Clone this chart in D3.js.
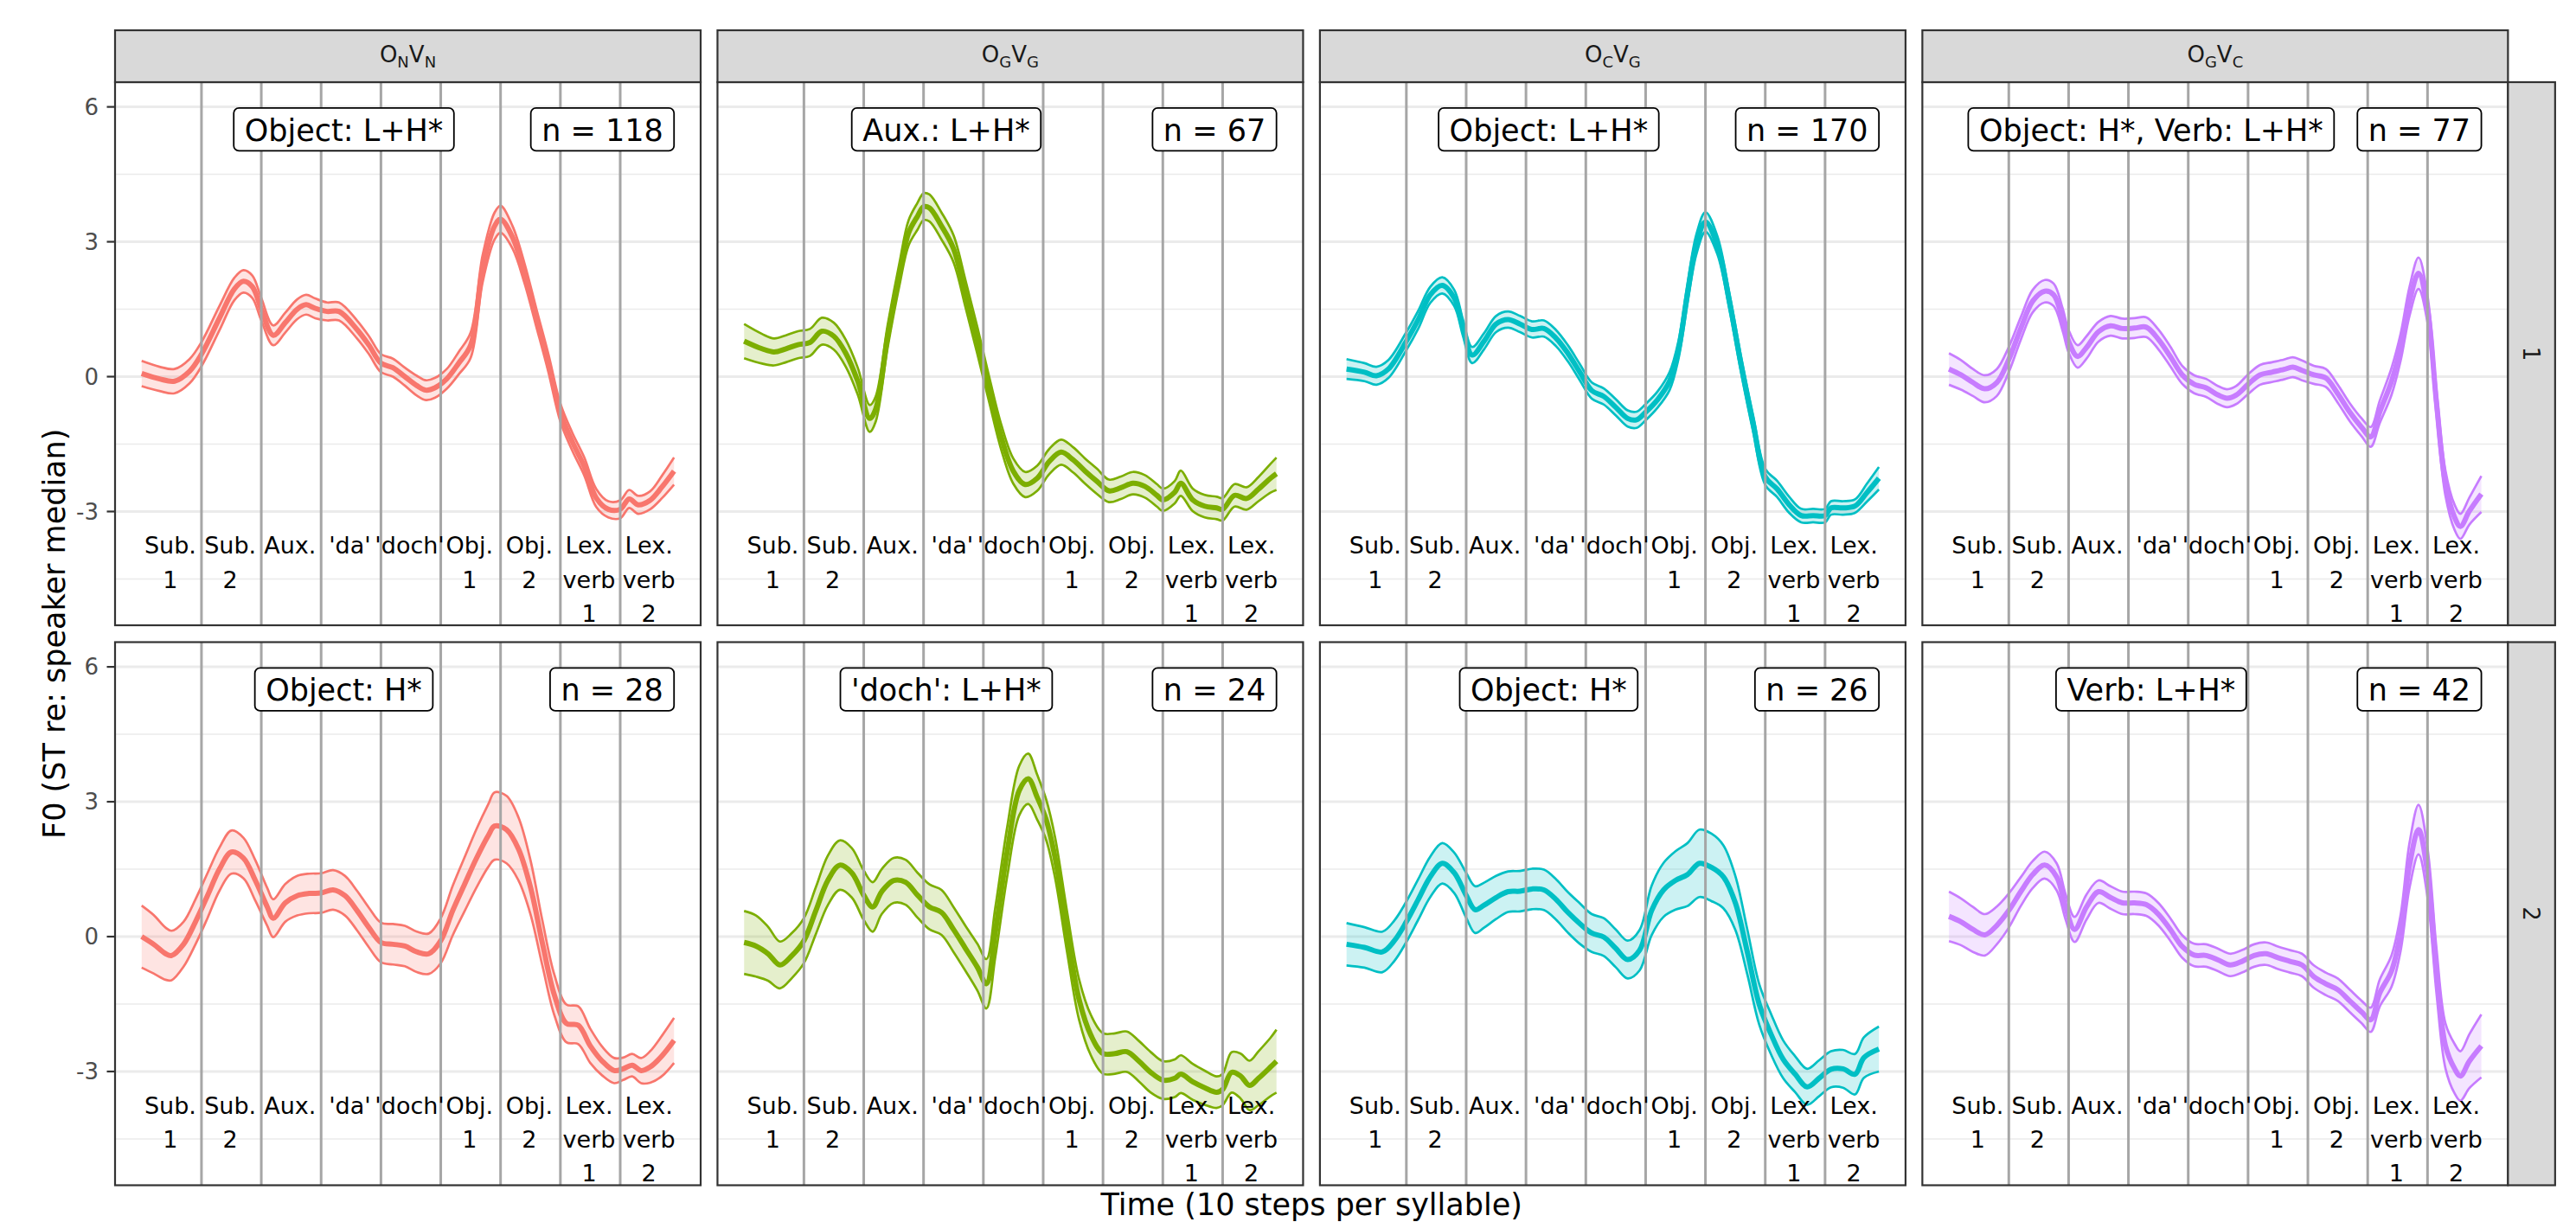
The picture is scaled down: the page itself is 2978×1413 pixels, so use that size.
<!DOCTYPE html>
<html><head><meta charset="utf-8">
<script src="https://cdn.jsdelivr.net/npm/d3@7"></script>
<style>body{margin:0;background:#fff}svg{display:block}</style>
</head><body>
<script>
// ---------- data ----------
const facetCols = [["O","N","V","N"],["O","G","V","G"],["O","C","V","G"],["O","G","V","C"]];
const facetRows = ["1","2"];
const colors = ["#F8766D","#7CAE00","#00BFC4","#C77CFF"];
const syllables = ["Sub.\n1","Sub.\n2","Aux.","'da'","'doch'","Obj.\n1","Obj.\n2","Lex.\nverb\n1","Lex.\nverb\n2"];
const boundaries = [10,20,30,40,50,60,70,80];
const yTicks = [-3,0,3,6];
const yMinor = [-4.5,-1.5,1.5,4.5];
const accentLabels = [["Object: L+H*","Aux.: L+H*","Object: L+H*","Object: H*, Verb: L+H*"],
                      ["Object: H*","'doch': L+H*","Object: H*","Verb: L+H*"]];
const nCounts = [[118,67,170,77],[28,24,26,42]];

// each row: [step, mean, ci half-width]
const onvn1 = [[0,0.07,0.28],[3,-0.05,0.27],[5.5,-0.1,0.27],[8,0.12,0.27],[10,0.5,0.27],[13,1.3,0.27],[15.5,1.95,0.25],[17,2.12,0.25],[18.5,2.0,0.25],[20,1.5,0.25],[22,0.92,0.22],[24,1.2,0.22],[26,1.5,0.22],[27.5,1.6,0.22],[29,1.52,0.22],[31,1.45,0.2],[33,1.45,0.2],[36,1.05,0.2],[38,0.7,0.2],[40,0.3,0.2],[42,0.2,0.2],[44,0.0,0.2],[46,-0.2,0.22],[47.5,-0.3,0.22],[49,-0.25,0.22],[51,-0.05,0.22],[53,0.3,0.25],[55,0.7,0.28],[57,2.4,0.3],[59,3.35,0.3],[60,3.5,0.3],[62,3.1,0.25],[64,2.3,0.22],[66,1.3,0.2],[68,0.3,0.2],[70,-0.8,0.2],[72,-1.45,0.2],[74,-2.0,0.2],[76,-2.7,0.2],[78,-2.95,0.18],[80,-2.95,0.2],[81.5,-2.72,0.2],[83,-2.85,0.2],[85,-2.75,0.2],[87,-2.45,0.25],[89,-2.1,0.3]];
const ogvg1 = [[0,0.79,0.38],[3,0.62,0.33],[5,0.55,0.3],[7,0.62,0.3],[9,0.71,0.3],[11,0.76,0.3],[13,1.01,0.3],[15,0.9,0.3],[17,0.52,0.3],[19,-0.1,0.3],[21,-0.93,0.3],[22,-0.72,0.28],[24,0.9,0.25],[26,2.3,0.25],[27.5,3.2,0.28],[29,3.57,0.3],[30,3.78,0.3],[31,3.75,0.3],[33,3.35,0.3],[35,2.85,0.3],[37,1.85,0.3],[39,0.8,0.3],[41,-0.3,0.28],[43,-1.35,0.28],[45,-2.1,0.28],[47,-2.4,0.28],[49,-2.26,0.28],[51,-1.89,0.28],[53,-1.68,0.28],[55,-1.85,0.28],[57,-2.1,0.28],[59,-2.33,0.28],[61,-2.54,0.25],[63,-2.47,0.25],[65,-2.37,0.25],[67,-2.44,0.25],[69,-2.64,0.25],[70,-2.74,0.25],[72,-2.57,0.25],[73,-2.37,0.28],[75,-2.74,0.25],[77,-2.88,0.25],[79,-2.92,0.25],[80,-2.95,0.25],[82,-2.64,0.25],[84,-2.71,0.25],[86,-2.5,0.27],[88,-2.26,0.32],[89,-2.16,0.36]];
const ocvg1 = [[0,0.17,0.22],[3,0.1,0.2],[5,0.02,0.2],[7,0.17,0.2],[10,0.79,0.2],[12,1.27,0.2],[14,1.82,0.18],[16,2.03,0.18],[18,1.75,0.18],[19.5,1.07,0.18],[21,0.48,0.18],[23,0.79,0.18],[25,1.17,0.18],[27,1.27,0.18],[29,1.17,0.18],[31,1.05,0.18],[33,1.07,0.18],[35,0.86,0.18],[37,0.52,0.18],[39,0.1,0.18],[41,-0.31,0.18],[43,-0.44,0.18],[45,-0.68,0.18],[47,-0.93,0.18],[48.5,-0.96,0.18],[50,-0.79,0.18],[52,-0.51,0.18],[54,-0.1,0.2],[55.5,0.6,0.2],[57,1.85,0.22],[58.5,2.95,0.22],[60,3.44,0.22],[62,2.92,0.2],[64,1.68,0.18],[66,0.24,0.18],[68,-1.06,0.18],[70,-2.23,0.18],[72,-2.5,0.18],[74,-2.85,0.18],[76,-3.09,0.15],[78,-3.09,0.15],[80,-3.09,0.15],[81,-2.92,0.15],[83,-2.92,0.15],[85,-2.88,0.15],[87,-2.58,0.2],[89,-2.26,0.25]];
const ogvc1 = [[0,0.17,0.35],[2,0.04,0.33],[4,-0.13,0.3],[6,-0.27,0.3],[8,-0.13,0.3],[10,0.38,0.28],[12,1.07,0.25],[14,1.68,0.25],[16,1.9,0.25],[17.5,1.82,0.25],[19,1.27,0.25],[20,0.79,0.25],[21.5,0.45,0.25],[23,0.65,0.25],[25,1.0,0.22],[27,1.13,0.22],[29,1.07,0.22],[31,1.08,0.22],[33,1.1,0.22],[35,0.83,0.22],[37,0.45,0.22],[39,0.04,0.2],[41,-0.17,0.2],[43,-0.25,0.2],[45,-0.41,0.2],[46.5,-0.48,0.2],[48,-0.41,0.2],[50,-0.17,0.22],[52,0.04,0.22],[54,0.1,0.22],[56,0.16,0.22],[57.5,0.21,0.22],[59,0.14,0.22],[61,0.04,0.2],[63,-0.03,0.2],[65,-0.38,0.2],[67,-0.79,0.2],[69,-1.13,0.2],[70.5,-1.34,0.22],[72,-0.79,0.25],[74,-0.1,0.3],[75.5,0.65,0.3],[77,1.68,0.32],[78.5,2.3,0.35],[80,1.5,0.3],[81.5,-0.58,0.28],[83,-2.37,0.28],[84.5,-3.12,0.28],[85.5,-3.33,0.28],[87,-2.99,0.3],[89,-2.61,0.4]];
const onvn2 = [[0,0.0,0.69],[2,-0.17,0.65],[4,-0.38,0.58],[5,-0.42,0.55],[7,-0.17,0.5],[9,0.33,0.5],[11,0.91,0.5],[13,1.5,0.48],[15,1.88,0.48],[17,1.75,0.45],[19,1.25,0.45],[21,0.66,0.42],[22,0.41,0.42],[24,0.75,0.42],[26,0.91,0.44],[28,0.96,0.44],[30,0.97,0.44],[32,1.04,0.44],[34,0.91,0.44],[36,0.58,0.44],[38,0.2,0.44],[40,-0.13,0.44],[42,-0.17,0.45],[44,-0.21,0.45],[46,-0.34,0.45],[48,-0.38,0.45],[50,-0.09,0.5],[52,0.58,0.55],[54,1.17,0.6],[56,1.75,0.65],[58,2.26,0.7],[59,2.46,0.75],[61,2.38,0.75],[63,1.95,0.7],[65,1.1,0.6],[67,-0.15,0.5],[69,-1.3,0.45],[71,-1.93,0.42],[73,-1.97,0.42],[75,-2.43,0.38],[77,-2.77,0.32],[79,-2.98,0.28],[80.5,-2.94,0.25],[82,-2.86,0.25],[83.5,-2.98,0.28],[85,-2.9,0.35],[87,-2.65,0.45],[89,-2.31,0.5]];
const ogvg2 = [[0,-0.13,0.7],[2,-0.21,0.68],[4,-0.38,0.6],[6,-0.63,0.52],[8,-0.42,0.5],[10,-0.09,0.5],[12,0.58,0.52],[14,1.25,0.55],[16,1.59,0.55],[18,1.42,0.55],[20,0.92,0.55],[21.5,0.66,0.55],[23,1.0,0.5],[25,1.25,0.5],[27,1.21,0.5],[29,0.92,0.5],[31,0.66,0.5],[33,0.54,0.5],[35,0.16,0.5],[37,-0.26,0.5],[39,-0.68,0.52],[40.5,-1.05,0.55],[42,0.1,0.55],[44,1.9,0.55],[46,3.25,0.55],[47.5,3.51,0.56],[49,3.1,0.5],[50.5,2.6,0.45],[52,1.75,0.45],[54,0.1,0.45],[56,-1.4,0.45],[58,-2.2,0.45],[60,-2.6,0.45],[62,-2.6,0.45],[64,-2.56,0.45],[66,-2.77,0.45],[68,-3.02,0.45],[70,-3.19,0.42],[72,-3.15,0.42],[73,-3.06,0.42],[75,-3.23,0.4],[77,-3.36,0.38],[79,-3.46,0.35],[80,-3.4,0.35],[81.5,-3.02,0.45],[83,-3.1,0.5],[84.5,-3.31,0.55],[86,-3.15,0.6],[88,-2.9,0.65],[89,-2.77,0.7]];
const ocvg2 = [[0,-0.17,0.47],[3,-0.24,0.45],[6,-0.34,0.45],[8,-0.09,0.45],[10,0.33,0.45],[12,0.83,0.45],[14,1.33,0.45],[16,1.63,0.45],[18,1.42,0.45],[20,0.92,0.5],[21.5,0.6,0.52],[23,0.7,0.5],[25,0.87,0.48],[27,1.0,0.45],[29,1.01,0.45],[31,1.06,0.45],[33,1.04,0.45],[35,0.83,0.45],[37,0.54,0.45],[39,0.29,0.45],[41,0.08,0.42],[43,-0.01,0.42],[45,-0.26,0.42],[47,-0.51,0.42],[49,-0.3,0.45],[51,0.58,0.55],[53,1.04,0.6],[55,1.25,0.65],[57,1.38,0.7],[59,1.63,0.75],[61,1.54,0.75],[63,1.33,0.7],[65,0.75,0.6],[67,-0.34,0.5],[69,-1.51,0.45],[71,-2.18,0.45],[73,-2.73,0.42],[75,-3.06,0.4],[77,-3.34,0.4],[79,-3.15,0.4],[81,-2.95,0.4],[83,-2.94,0.42],[85,-3.06,0.45],[86.5,-2.69,0.45],[89,-2.5,0.5]];
const ogvc2 = [[0,0.45,0.55],[2,0.33,0.52],[4,0.16,0.5],[6,0.04,0.46],[8,0.25,0.42],[10,0.58,0.38],[12,1.0,0.32],[14,1.38,0.3],[16,1.59,0.3],[18,1.33,0.3],[19.5,0.66,0.28],[21,0.16,0.28],[23,0.66,0.28],[25,1.0,0.25],[27,0.87,0.25],[29,0.75,0.25],[31,0.75,0.25],[33,0.71,0.25],[35,0.5,0.25],[37,0.16,0.25],[39,-0.22,0.25],[41,-0.41,0.25],[43,-0.42,0.25],[45,-0.52,0.25],[47,-0.63,0.25],[49,-0.55,0.25],[51,-0.42,0.25],[53,-0.38,0.25],[55,-0.47,0.25],[57,-0.55,0.25],[59,-0.63,0.25],[61,-0.89,0.25],[63,-1.05,0.25],[65,-1.18,0.25],[67,-1.43,0.25],[69,-1.68,0.25],[70.5,-1.85,0.27],[72,-1.26,0.3],[74,-0.76,0.35],[75.5,0.08,0.4],[77,1.59,0.5],[78.5,2.38,0.55],[80,1.42,0.55],[81.5,-0.76,0.5],[83,-2.43,0.5],[84.5,-2.93,0.55],[85.5,-3.1,0.55],[87,-2.77,0.6],[89,-2.43,0.7]];
const series = [[onvn1,ogvg1,ocvg1,ogvc1],[onvn2,ogvg2,ocvg2,ogvc2]];

// ---------- layout ----------
const W = 2978, H = 1413;
const panelW = 677, panelH = 628;
const colX = [0,1,2,3].map(i => 133 + i*696.45);
const rowY = [95, 742.5];
const stripTop = 35, stripRightW = 54.5;
const FONT = "'DejaVu Sans', Verdana, sans-serif";

const svg = d3.select("body").append("svg").attr("width", W).attr("height", H)
  .style("font-family", FONT);
svg.append("rect").attr("width", W).attr("height", H).attr("fill", "#fff");

const xExt = [0, 89], xPad = 0.05 * (xExt[1] - xExt[0]);
const x = d3.scaleLinear().domain([xExt[0] - xPad, xExt[1] + xPad]).range([0, panelW]);
const y = d3.scaleLinear().domain([-5.53, 6.55]).range([panelH, 0]);

const curve = d3.curveCatmullRom.alpha(0.5);
const meanLine = d3.line().x(d => x(d[0])).y(d => y(d[1])).curve(curve);
const upLine = d3.line().x(d => x(d[0])).y(d => y(d[1] + d[2])).curve(curve);
const loLine = d3.line().x(d => x(d[0])).y(d => y(d[1] - d[2])).curve(curve);
const band = d3.area().x(d => x(d[0])).y0(d => y(d[1] - d[2])).y1(d => y(d[1] + d[2])).curve(curve);

facetRows.forEach((rowName, r) => {
  facetCols.forEach((colName, c) => {
    const g = svg.append("g").attr("transform", `translate(${colX[c]},${rowY[r]})`);
    const col = colors[c];
    const data = series[r][c];
    g.append("rect").attr("width", panelW).attr("height", panelH).attr("fill", "#fff");
    g.selectAll(".mn").data(yMinor).join("line")
      .attr("x1", 0).attr("x2", panelW).attr("y1", d => y(d)).attr("y2", d => y(d))
      .attr("stroke", "#EBEBEB").attr("stroke-width", 1.5);
    g.selectAll(".mj").data(yTicks).join("line")
      .attr("x1", 0).attr("x2", panelW).attr("y1", d => y(d)).attr("y2", d => y(d))
      .attr("stroke", "#EBEBEB").attr("stroke-width", 3);
    g.append("path").attr("d", band(data)).attr("fill", col).attr("fill-opacity", 0.2);
    g.append("path").attr("d", upLine(data)).attr("fill", "none").attr("stroke", col).attr("stroke-width", 2.7);
    g.append("path").attr("d", loLine(data)).attr("fill", "none").attr("stroke", col).attr("stroke-width", 2.7);
    g.append("path").attr("d", meanLine(data)).attr("fill", "none").attr("stroke", col).attr("stroke-width", 6);
    g.selectAll(".vl").data(boundaries).join("line")
      .attr("x1", d => x(d)).attr("x2", d => x(d)).attr("y1", 0).attr("y2", panelH)
      .attr("stroke", "#A6A6A6").attr("stroke-width", 3);
    // syllable labels
    syllables.forEach((s, i) => {
      const t = g.append("text").attr("text-anchor", "middle").attr("font-size", 27).attr("fill", "#000");
      s.split("\n").forEach((line, k) => {
        t.append("tspan").attr("x", x(i*10 + 4.8)).attr("y", y(-3.94) + k*39.3).text(line);
      });
    });
    // accent label (centered) and n label (right aligned)
    const yc = y(5.5);
    const addLabel = (txt, xPos, anchor) => {
      const lg = g.append("g");
      const t = lg.append("text").attr("font-size", 35).attr("fill", "#000")
        .attr("text-anchor", anchor).attr("x", xPos).attr("y", yc + 13).text(txt);
      const w = t.node().getComputedTextLength();
      const padX = 12.5;
      let left = anchor === "middle" ? xPos - w/2 - padX : xPos - w - 2*padX;
      if (anchor === "end") t.attr("x", xPos - padX);
      lg.insert("rect", "text").attr("x", left).attr("y", yc - 24.8).attr("width", w + 2*padX)
        .attr("height", 49.6).attr("rx", 6).attr("ry", 6)
        .attr("fill", "#fff").attr("stroke", "#000").attr("stroke-width", 1.8);
    };
    addLabel(accentLabels[r][c], x(33.8), "middle");
    addLabel("n = " + nCounts[r][c], x(89), "end");
    g.append("rect").attr("width", panelW).attr("height", panelH).attr("fill", "none")
      .attr("stroke", "#333333").attr("stroke-width", 2.2);

    // top strips
    if (r === 0) {
      const sg = svg.append("g").attr("transform", `translate(${colX[c]},${stripTop})`);
      sg.append("rect").attr("width", panelW).attr("height", rowY[0] - stripTop)
        .attr("fill", "#D9D9D9").attr("stroke", "#333333").attr("stroke-width", 2.2);
      const st = sg.append("text").attr("x", panelW/2).attr("y", 37).attr("text-anchor", "middle")
        .attr("font-size", 26).attr("fill", "#1A1A1A");
      st.append("tspan").text(colName[0]);
      st.append("tspan").attr("font-size", 18).attr("dy", 6).text(colName[1]);
      st.append("tspan").attr("dy", -6).text(colName[2]);
      st.append("tspan").attr("font-size", 18).attr("dy", 6).text(colName[3]);
    }
  });
  // right strip
  const rx = colX[3] + panelW;
  const rg = svg.append("g").attr("transform", `translate(${rx},${rowY[r]})`);
  rg.append("rect").attr("width", stripRightW).attr("height", panelH)
    .attr("fill", "#D9D9D9").attr("stroke", "#333333").attr("stroke-width", 2.2);
  rg.append("text").attr("transform", `translate(${stripRightW/2},${panelH/2}) rotate(90)`)
    .attr("text-anchor", "middle").attr("dy", "0.35em").attr("font-size", 26).attr("fill", "#1A1A1A")
    .text(rowName);
  // y axis on first column
  const ag = svg.append("g").attr("transform", `translate(${colX[0]},${rowY[r]})`);
  ag.selectAll("line").data(yTicks).join("line")
    .attr("x1", -9.5).attr("x2", 0).attr("y1", d => y(d)).attr("y2", d => y(d))
    .attr("stroke", "#333333").attr("stroke-width", 2.2);
  ag.selectAll("text").data(yTicks).join("text")
    .attr("x", -19).attr("y", d => y(d)).attr("dy", "0.36em").attr("text-anchor", "end")
    .attr("font-size", 26).attr("fill", "#4D4D4D").text(d => d < 0 ? "-" + Math.abs(d) : d);
});

// axis titles
svg.append("text").attr("x", colX[0] + (colX[3] + panelW - colX[0]) / 2).attr("y", 1405)
  .attr("text-anchor", "middle").attr("font-size", 35).attr("fill", "#000")
  .text("Time (10 steps per syllable)");
svg.append("text").attr("transform", `translate(74.5,${(rowY[0] + rowY[1] + panelH) / 2}) rotate(-90)`)
  .attr("text-anchor", "middle").attr("font-size", 35).attr("fill", "#000")
  .text("F0 (ST re: speaker median)");
</script>
</body></html>
